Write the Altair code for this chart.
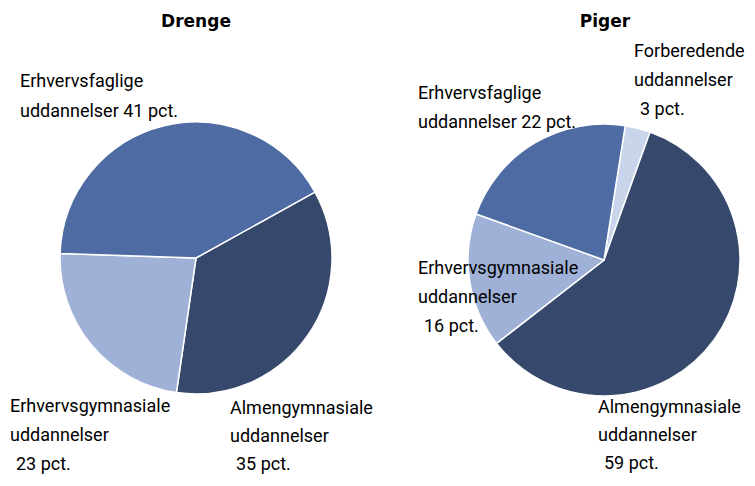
import altair as alt
import pandas as pd
import math

# Data
categories = ["Forberedende", "Almengymnasiale", "Erhvervsgymnasiale", "Erhvervsfaglige"]
drenge_values = [0, 35, 23, 41]
piger_values = [3, 59, 16, 22]
colors = ["#c9d5ea", "#36486b", "#9fb1d7", "#4e6ca3"]

drenge_labels = [
    ["Erhvervsfaglige", "uddannelser 41 pct."],
    ["Erhvervsgymnasiale", "uddannelser", " 23 pct."],
    ["Almengymnasiale", "uddannelser", " 35 pct."],
]
piger_labels = [
    ["Forberedende", "uddannelser", " 3 pct."],
    ["Erhvervsfaglige", "uddannelser 22 pct."],
    ["Erhvervsgymnasiale", "uddannelser", " 16 pct."],
    ["Almengymnasiale", "uddannelser", " 59 pct."],
]

def pie_df(values):
    rows = []
    for i, (c, v) in enumerate(zip(categories, values)):
        if v > 0:
            rows.append({"kategori": c, "pct": v, "ord": i})
    return pd.DataFrame(rows)

color_scale = alt.Scale(domain=categories, range=colors)

def pie(values, cx, cy, start_deg):
    a = math.radians(start_deg)
    return alt.Chart(pie_df(values)).mark_arc(
        outerRadius=136, stroke="white", strokeWidth=1.5
    ).encode(
        theta=alt.Theta("pct:Q", stack=True, scale=alt.Scale(range=[a, a + 2 * math.pi])),
        order=alt.Order("ord:Q"),
        color=alt.Color("kategori:N", scale=color_scale, legend=None),
        x=alt.value(cx),
        y=alt.value(cy),
    )

def label_lines(lines, x, y, lh):
    out = []
    for i, line in enumerate(lines):
        indent = 6 if line.startswith(" ") else 0
        out.append(
            alt.Chart(pd.DataFrame({"t": [line.strip()]})).mark_text(
                align="left", baseline="alphabetic",
                font="Roboto", fontSize=18, color="black", dx=indent
            ).encode(text="t:N", x=alt.value(x), y=alt.value(y + lh * i))
        )
    return out

def title(text, x):
    return alt.Chart(pd.DataFrame({"t": [text]})).mark_text(
        align="center", baseline="alphabetic", font="DejaVu Sans",
        fontWeight="bold", fontSize=17, color="black"
    ).encode(text="t:N", x=alt.value(x), y=alt.value(19))

layers = [
    pie(drenge_values, 188, 250, 61),
    pie(piger_values, 596, 252, 9),
    title("Drenge", 188),
    title("Piger", 597),
]
d_pos = [(12, 79, 30), (2, 404, 29), (222, 406, 28)]
p_pos = [(626, 49, 29), (410, 91, 29), (410, 266, 29), (590, 405, 28)]
for lines, (x, y, lh) in zip(drenge_labels, d_pos):
    layers += label_lines(lines, x, y, lh)
for lines, (x, y, lh) in zip(piger_labels, p_pos):
    layers += label_lines(lines, x, y, lh)

chart = alt.layer(*layers).resolve_scale(theta="independent").properties(
    width=739, height=466, padding=0, autosize=alt.AutoSizeParams(type="none")
).configure_view(stroke=None)

chart.save("out.html", embed_options={"renderer": "svg", "actions": False})
